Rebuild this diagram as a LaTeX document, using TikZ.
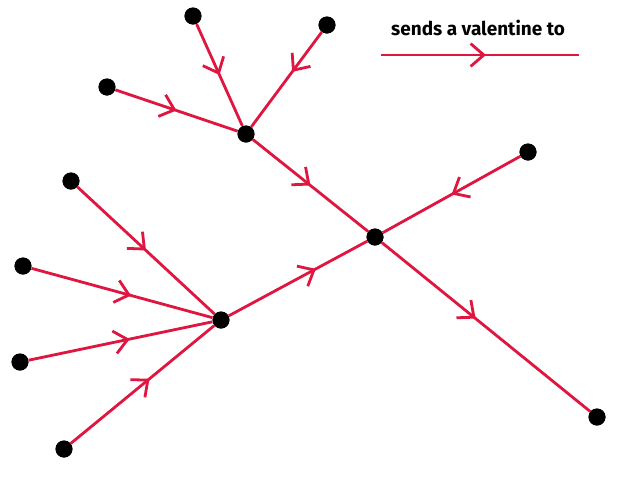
\documentclass[tikz,border=0pt]{standalone}
\usepackage{fontspec}
\setsansfont{Fira Sans}
\usetikzlibrary{arrows.meta, decorations.markings}
\definecolor{valred}{RGB}{222,22,64}
\begin{document}
\begin{tikzpicture}[x=0.02cm, y=-0.02cm,
		p/.style = {circle, fill=black, inner sep=0pt, minimum size=0.34cm},
		v/.style = {draw=valred, line width=1.6pt, postaction={decorate},
			decoration={markings, mark=at position #1 with {\arrow[valred, line width=1.6pt]{Straight Barb[length=7.5pt, width=13pt]}}}},
		v/.default = 0.5
		]
		\useasboundingbox (0, 0) rectangle (626, 491);
		
		%Nodes
		\node[p]	(a1)	at	(193, 16)	{};
		\node[p]	(a2)	at	(327, 25)	{};
		\node[p]	(a3)	at	(107, 87)	{};
		\node[p]	(h1)	at	(246, 134)	{};
		\node[p]	(b1)	at	(528, 152)	{};
		\node[p]	(c)		at	(375, 237)	{};
		\node[p]	(d1)	at	(71, 181)	{};
		\node[p]	(d2)	at	(23, 266)	{};
		\node[p]	(d3)	at	(20, 362)	{};
		\node[p]	(d4)	at	(64, 449)	{};
		\node[p]	(h2)	at	(221, 320)	{};
		\node[p]	(e)		at	(597, 417)	{};
		\node[font=\sffamily\bfseries\fontsize{10.8}{12}\selectfont]	(key)	at	(478, 28)	{sends a valentine to};
		\coordinate	(k1)	at	(381, 55);
		\coordinate	(k2)	at	(579, 55);
		
		%Lines
		\draw[v=0.5]	(a1)	--	(h1);
		\draw[v=0.42]	(a2)	--	(h1);
		\draw[v]		(a3)	--	(h1);
		\draw[v]		(h1)	--	(c);
		\draw[v]		(b1)	--	(c);
		\draw[v=0.63]	(h2)	--	(c);
		\draw[v=0.45]	(c)		--	(e);
		\draw[v]		(d1)	--	(h2);
		\draw[v=0.55]	(d2)	--	(h2);
		\draw[v=0.55]	(d3)	--	(h2);
		\draw[v=0.55]	(d4)	--	(h2);
		\foreach \n in {a1, a2, a3, h1, b1, c, d1, d2, d3, d4, h2, e}
			\node[p] at (\n) {};
		\draw[v=0.53]	(k1)	--	(k2);
	\end{tikzpicture}
\end{document}
